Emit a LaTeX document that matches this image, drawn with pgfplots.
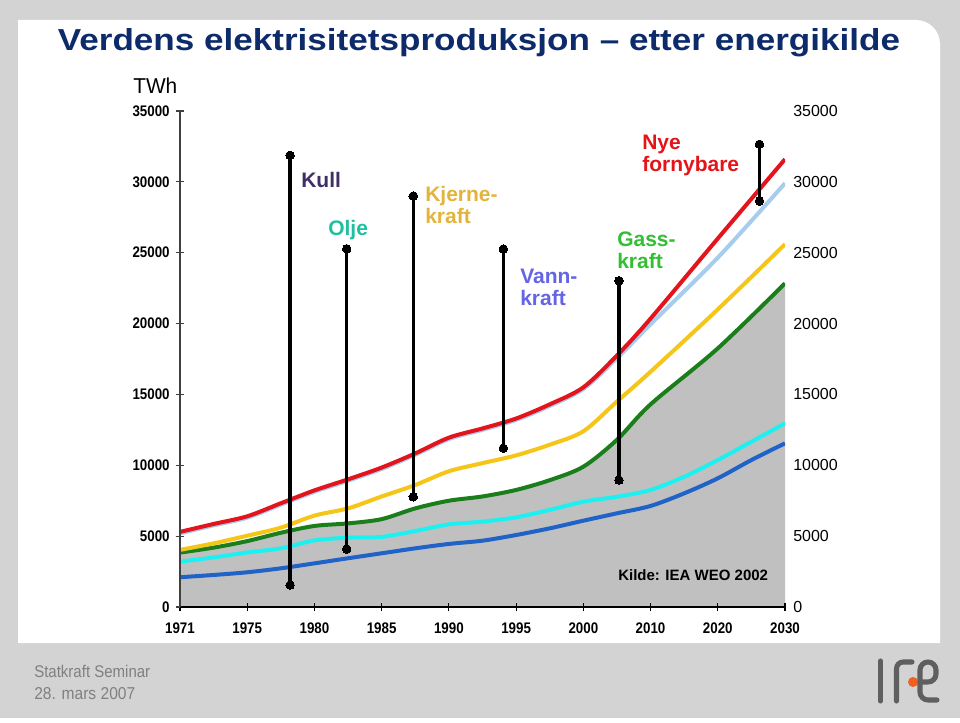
\documentclass[border=0pt]{standalone}
\usepackage{graphicx}
\usepackage{pgfplots}
\pgfplotsset{compat=1.18}
\usepackage{fontspec}
\setmainfont{Liberation Sans}
\newfontfamily\narrowtick[FakeStretch=0.87]{Liberation Sans}
\definecolor{bggray}{HTML}{D3D3D3}
\definecolor{titleblue}{HTML}{0D2B6B}
\definecolor{cred}{HTML}{E3141C}
\definecolor{clblue}{HTML}{A6CCEE}
\definecolor{cyellow}{HTML}{F5C518}
\definecolor{cgreen}{HTML}{1A7F1A}
\definecolor{ccyan}{HTML}{1CF0F0}
\definecolor{cblue}{HTML}{1F63C8}
\definecolor{fillgray}{HTML}{C0C0C0}
\definecolor{tkull}{HTML}{3F2F66}
\definecolor{tolje}{HTML}{1FBF9F}
\definecolor{tkjerne}{HTML}{E3B43C}
\definecolor{tvann}{HTML}{6464E4}
\definecolor{tgass}{HTML}{34BE34}
\definecolor{tnye}{HTML}{E41418}
\definecolor{footgray}{HTML}{808080}
\definecolor{logogray}{HTML}{5F5F5F}
\definecolor{logoorange}{HTML}{F06020}
\newcommand\tickfont{\fontsize{11.5}{12}\narrowtick\bfseries}
\newcommand\lblfont{\fontsize{15.75}{18}\selectfont\bfseries}
\begin{document}
\begin{tikzpicture}[x=0.75pt,y=0.75pt]
\useasboundingbox (0,0) rectangle (960,722);
\fill[white] (0,0) rectangle (960,722);
\fill[bggray] (0,4) rectangle (960,722);
\fill[white] (18,79) -- (18,702) [rounded corners=18pt] -- (940,702) [sharp corners] -- (940,79) -- cycle;
% title
\node[anchor=base, inner sep=0pt] at (479,671.3) {\resizebox{631.5pt}{16.5pt}{\bfseries\color{titleblue}Verdens elektrisitetsproduksjon – etter energikilde}};
\node[anchor=base west, inner sep=0pt] at (133,628.7) {\resizebox{33pt}{11.7pt}{TWh}};
% footer
\node[anchor=base west, inner sep=0pt] at (34,44.7) {\resizebox{87pt}{9.2pt}{\color{footgray}Statkraft Seminar}};
\node[anchor=base west, inner sep=0pt] at (34,22.7) {\resizebox{75.75pt}{9pt}{\color{footgray}28. mars 2007}};
% logo
\draw[logogray, line width=3.8pt, line cap=round] (880.5,61) -- (880.5,21);
\draw[logogray, line width=3.8pt, line cap=round, rounded corners=5pt] (896.5,21) -- (896.5,60) -- (912,60);
\fill[logoorange] (913,40) circle (5);
\draw[logogray, line width=3.8pt, line cap=round, rounded corners=6pt] (920,40) -- (936,40) -- (936,60) -- (920,60) -- (920,22) -- (937,22);

\begin{axis}[
  at={(135pt,86.25pt)}, anchor=south west,
  scale only axis, width=453.75pt, height=372pt,
  xmin=0, xmax=9, ymin=0, ymax=35000,
  scaled y ticks=false,
  axis on top,
  axis x line=bottom, axis y line=left,
  x axis line style={-, line width=1.2pt, black},
  y axis line style={-, line width=0.9pt, black!75},
  xtick={0,...,9},
  xticklabels={1971,1975,1980,1985,1990,1995,2000,2010,2020,2030},
  ytick={0,5000,10000,15000,20000,25000,30000,35000},
  yticklabels={0,5000,10000,15000,20000,25000,30000,35000},
  tick align=center, major tick length=6.5pt,
  xtick style={black, line width=0.8pt},
  ytick style={black!75, line width=0.8pt},
  xticklabel style={font=\tickfont, yshift=-5pt},
  yticklabel style={font=\tickfont, xshift=-1pt},
  every axis plot/.append style={line join=round},
]
\addplot[fill=fillgray, draw=none, smooth] coordinates {(0,3840)(0.5,4190)(1,4650)(1.5,5240)(2,5720)(2.5,5900)(3,6200)(3.5,6960)(4,7500)(4.5,7800)(5,8260)(5.5,8950)(6,9900)(6.5,11800)(7,14300)(8,18250)(9,22840)} \closedcycle;
% Kull top (blue)
\addplot[cblue, line width=3pt, smooth] coordinates {(0,2100)(0.5,2260)(1,2450)(1.5,2730)(2,3080)(2.5,3440)(3,3790)(3.5,4140)(4,4450)(4.5,4680)(5,5080)(5.5,5550)(6,6090)(6.5,6610)(7,7130)(7.5,8020)(8,9080)(8.5,10370)(9,11550)};
% Olje top (cyan)
\addplot[ccyan, line width=3pt, smooth] coordinates {(0,3200)(0.5,3500)(1,3850)(1.5,4140)(2,4700)(2.5,4890)(3,4950)(3.5,5360)(4,5830)(4.5,6020)(5,6330)(5.5,6850)(6,7430)(6.5,7780)(7,8260)(7.5,9190)(8,10370)(8.5,11660)(9,12960)};
% Gasskraft top (green)
\addplot[cgreen, line width=3pt, smooth] coordinates {(0,3840)(0.5,4190)(1,4650)(1.5,5240)(2,5720)(2.5,5900)(3,6200)(3.5,6960)(4,7500)(4.5,7800)(5,8260)(5.5,8950)(6,9900)(6.5,11800)(7,14300)(8,18250)(9,22840)};
% Kjernekraft top (yellow)
\addplot[cyellow, line width=3pt, smooth] coordinates {(0,4030)(0.5,4490)(1,5030)(1.5,5600)(2,6450)(2.5,6960)(3,7800)(3.5,8610)(4,9580)(4.5,10150)(5,10700)(5.5,11450)(6,12400)(6.5,14500)(7,16600)(8,21000)(9,25600)};
% Vannkraft top (light blue)
\addplot[clblue, line width=3pt, smooth] coordinates {(0,5200)(0.5,5760)(1,6300)(1.5,7220)(2,8130)(2.5,8910)(3,9740)(3.5,10740)(4,11850)(4.5,12500)(5,13200)(5.5,14190)(6,15380)(6.5,17550)(7,19950)(8,24650)(9,29900)};
% Nye fornybare top (red)
\addplot[cred, line width=3pt, smooth] coordinates {(0,5300)(0.5,5860)(1,6400)(1.5,7320)(2,8230)(2.5,9010)(3,9840)(3.5,10840)(4,11950)(4.5,12600)(5,13300)(5.5,14300)(6,15500)(6.5,17750)(7,20350)(8,26000)(9,31600)};
% band markers
\addplot[black, line width=2.6pt, mark=*, mark size=3.2pt, mark options={solid, fill=black, line width=0pt}] coordinates {(1.637,31870)(1.637,1550)};
\addplot[black, line width=2.6pt, mark=*, mark size=3.2pt, mark options={solid, fill=black, line width=0pt}] coordinates {(2.48,25280)(2.48,4090)};
\addplot[black, line width=2.6pt, mark=*, mark size=3.2pt, mark options={solid, fill=black, line width=0pt}] coordinates {(3.47,29000)(3.47,7780)};
\addplot[black, line width=2.6pt, mark=*, mark size=3.2pt, mark options={solid, fill=black, line width=0pt}] coordinates {(4.81,25260)(4.81,11200)};
\addplot[black, line width=2.6pt, mark=*, mark size=3.2pt, mark options={solid, fill=black, line width=0pt}] coordinates {(6.53,23020)(6.53,8960)};
\addplot[black, line width=2.6pt, mark=*, mark size=3.2pt, mark options={solid, fill=black, line width=0pt}] coordinates {(8.62,32650)(8.62,28650)};
\end{axis}

\begin{axis}[
  at={(135pt,86.25pt)}, anchor=south west,
  scale only axis, width=453.75pt, height=372pt,
  xmin=0, xmax=9, ymin=0, ymax=35000,
  scaled y ticks=false,
  axis y line*=right, axis x line=none,
  y axis line style={draw=none},
  ytick={0,5000,10000,15000,20000,25000,30000,35000},
  yticklabels={0,5000,10000,15000,20000,25000,30000,35000},
  major tick length=0pt, ytick style={draw=none},
  yticklabel style={font=\fontsize{12}{12}\selectfont, anchor=west, inner sep=0pt, xshift=6pt},
]
\end{axis}

% band labels
\node[anchor=base west, inner sep=0pt, text=tkull] at (301,534) {\lblfont Kull};
\node[anchor=base west, inner sep=0pt, text=tolje] at (328,486) {\lblfont Olje};
\node[anchor=base west, inner sep=0pt, text=tkjerne] at (425,520.5) {\lblfont Kjerne-};
\node[anchor=base west, inner sep=0pt, text=tkjerne] at (425,498.5) {\lblfont kraft};
\node[anchor=base west, inner sep=0pt, text=tvann] at (520,438.7) {\lblfont Vann-};
\node[anchor=base west, inner sep=0pt, text=tvann] at (520,416.5) {\lblfont kraft};
\node[anchor=base west, inner sep=0pt, text=tgass] at (617,475.3) {\lblfont Gass-};
\node[anchor=base west, inner sep=0pt, text=tgass] at (617,453.7) {\lblfont kraft};
\node[anchor=base west, inner sep=0pt, text=tnye] at (642,572) {\lblfont Nye};
\node[anchor=base west, inner sep=0pt, text=tnye] at (642,550.5) {\lblfont fornybare};
\node[anchor=base west, inner sep=0pt] at (618,141.3) {\fontsize{11.25}{12}\selectfont\bfseries Kilde: IEA WEO 2002};
\end{tikzpicture}
\end{document}
